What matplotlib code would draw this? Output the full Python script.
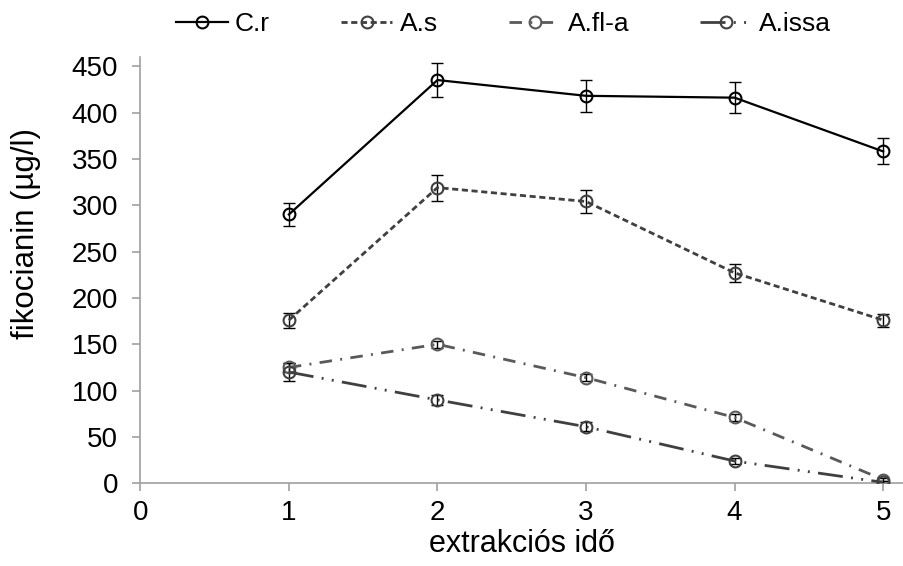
import matplotlib.pyplot as plt

plt.rcParams["font.family"] = ["Liberation Sans", "DejaVu Sans"]

# extraction time steps
x_vals = [1, 2, 3, 4, 5]

# fikocianin (ug/l) per species
cr_vals = [290, 435, 418, 416, 358]
cr_err = [12, 18, 17, 17, 14]

as_vals = [176, 319, 304, 227, 176]
as_err = [8, 14, 12, 10, 7]

afla_vals = [125, 150, 114, 71, 4]
afla_err = [5, 4, 4, 4, 2]

aissa_vals = [120, 90, 61, 24, 1]
aissa_err = [10, 5, 5, 3, 2]

series_names = ["C.r", "A.s", "A.fl-a", "A.issa"]
x_ticks = [0, 1, 2, 3, 4, 5]
y_ticks = [0, 50, 100, 150, 200, 250, 300, 350, 400, 450]


def main() -> None:
    fig = plt.figure(figsize=(9.04, 5.66), dpi=100)
    ax = fig.add_axes([0.1552, 0.1461, 0.8448, 0.7534])

    styles = [
        dict(color="black", lw=1.6, ls="-"),
        dict(color="#404040", lw=2.0, ls=(0, (2.2, 1.3))),
        dict(color="#595959", lw=2.0, ls=(0, (4.5, 3.0, 0.7, 3.0))),
        dict(color="#404040", lw=2.0, ls=(0, (9, 3.0, 0.7, 3.0, 0.7, 3.0))),
    ]
    data = [
        (cr_vals, cr_err),
        (as_vals, as_err),
        (afla_vals, afla_err),
        (aissa_vals, aissa_err),
    ]

    handles = []
    for name, (vals, err), st in zip(series_names, data, styles):
        # error bars first, thin and black
        ax.errorbar(
            x_vals, vals, yerr=err, fmt="none", ecolor="black",
            elinewidth=1.0, capsize=4, capthick=1.0, zorder=3,
        )
        (ln,) = ax.plot(
            x_vals, vals, color=st["color"], lw=st["lw"], linestyle=st["ls"],
            marker="o", markersize=8.5, markerfacecolor="none",
            markeredgecolor=st["color"], markeredgewidth=1.5,
            label=name, zorder=4,
        )
        handles.append(ln)

    ax.set_xlim(0, 5.14)
    ax.set_ylim(0, 460)
    ax.set_xticks(x_ticks)
    ax.set_yticks(y_ticks)

    for side in ("top", "right"):
        ax.spines[side].set_visible(False)
    for side in ("left", "bottom"):
        ax.spines[side].set_color("#a0a0a0")
        ax.spines[side].set_linewidth(1.2)

    ax.tick_params(axis="both", direction="out", length=6, width=1.2,
                   color="#a0a0a0", labelsize=20, labelcolor="black")
    ax.tick_params(axis="x", pad=6)
    ax.tick_params(axis="y", pad=10)

    ax.set_xlabel("extrakciós idő", fontsize=22, labelpad=2)
    ax.set_ylabel("fikocianin (µg/l)", fontsize=22.5)
    # y title sits a bit above the plot centre, as in the original
    ax.yaxis.set_label_coords(-0.130, 0.585)

    fig.legend(
        handles=handles, labels=series_names, loc="upper center",
        bbox_to_anchor=(0.557, 1.02), ncol=4, frameon=False, fontsize=19,
        handlelength=1.95, handletextpad=0.27, columnspacing=2.7,
    )

    fig.savefig("out.png", dpi=100)
    plt.close(fig)


if __name__ == "__main__":
    main()
